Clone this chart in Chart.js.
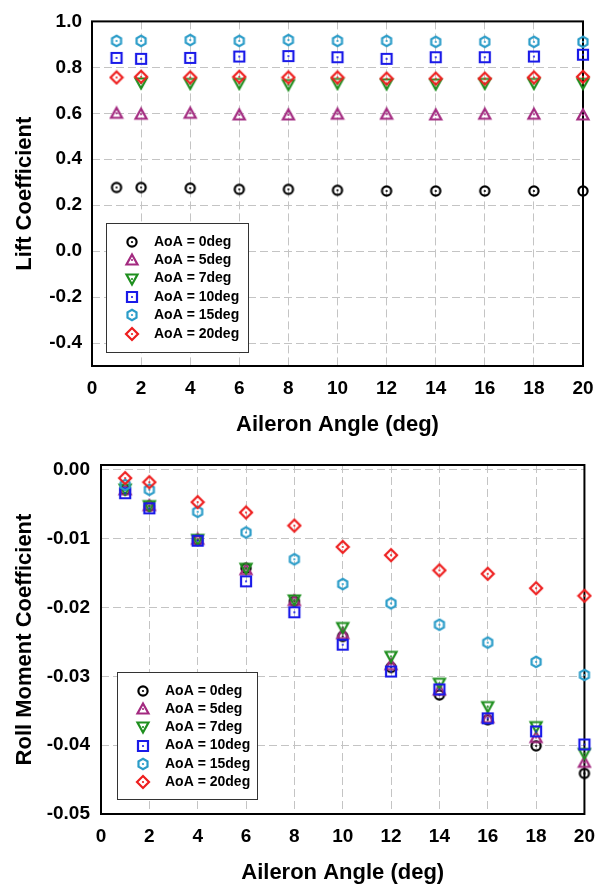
<!DOCTYPE html>
<html>
<head>
<meta charset="utf-8">
<script src="https://cdn.jsdelivr.net/npm/chart.js@4.4.1/dist/chart.umd.min.js"></script>
<style>
  html, body { margin: 0; padding: 0; background: #fff; }
  #wrap { position: relative; width: 606px; height: 888px; }
  #liftWrap { position: absolute; left: 0; top: 0; width: 606px; height: 440px; }
  #rollWrap { position: absolute; left: 0; top: 440px; width: 606px; height: 448px; }
</style>
</head>
<body>
<div id="wrap">
  <div id="liftWrap"><canvas id="liftChart"></canvas></div>
  <div id="rollWrap"><canvas id="rollChart"></canvas></div>
</div>
<script>
// data
const aileronAngles = [1, 2, 4, 6, 8, 10, 12, 14, 16, 18, 20];
const seriesLabels = ['AoA = 0deg', 'AoA = 5deg', 'AoA = 7deg', 'AoA = 10deg', 'AoA = 15deg', 'AoA = 20deg'];

const lift0  = [0.277, 0.277, 0.274, 0.269, 0.269, 0.265, 0.262, 0.262, 0.262, 0.262, 0.262];
const lift5  = [0.600, 0.596, 0.600, 0.593, 0.593, 0.596, 0.596, 0.593, 0.596, 0.596, 0.593];
const lift7  = [null, 0.732, 0.730, 0.730, 0.725, 0.730, 0.728, 0.727, 0.730, 0.730, 0.730];
const lift10 = [0.841, 0.837, 0.841, 0.847, 0.849, 0.844, 0.837, 0.844, 0.844, 0.847, 0.855];
const lift15 = [0.915, 0.915, 0.919, 0.915, 0.919, 0.915, 0.915, 0.911, 0.911, 0.911, 0.911];
const lift20 = [0.756, 0.759, 0.756, 0.759, 0.756, 0.756, 0.751, 0.751, 0.751, 0.756, 0.759];

const roll0  = [-0.0029, -0.0053, -0.0102, -0.0143, -0.0191, -0.0242, -0.0287, -0.0327, -0.0363, -0.0401, -0.0441];
const roll5  = [-0.0029, -0.0052, -0.0101, -0.0145, -0.0190, -0.0238, -0.0283, -0.0320, -0.0360, -0.0389, -0.0425];
const roll7  = [-0.0028, -0.0052, -0.0101, -0.0143, -0.0189, -0.0229, -0.0271, -0.0310, -0.0344, -0.0373, -0.0412];
const roll10 = [-0.0034, -0.0056, -0.0103, -0.0162, -0.0207, -0.0254, -0.0293, -0.0319, -0.0361, -0.0380, -0.0399];
const roll15 = [-0.0022, -0.0029, -0.0061, -0.0091, -0.0130, -0.0166, -0.0194, -0.0225, -0.0251, -0.0279, -0.0298];
const roll20 = [-0.0012, -0.0018, -0.0047, -0.0062, -0.0081, -0.0112, -0.0124, -0.0146, -0.0151, -0.0172, -0.0183];

const xTicks = [0, 2, 4, 6, 8, 10, 12, 14, 16, 18, 20];
const liftTicks = [-0.4, -0.2, 0.0, 0.2, 0.4, 0.6, 0.8, 1.0];
const rollTicks = [-0.05, -0.04, -0.03, -0.02, -0.01, 0.00];

const FONT = '"Liberation Sans", Arial, sans-serif';
const shapes = ['circle', 'triangle', 'triangleDown', 'square', 'hexagon', 'diamond'];
const colors = ['#000000', '#a32a80', '#1f8f1f', '#1a1ae8', '#2a9cc8', '#ee1e1e'];

// hollow marker with a small dot in the middle
function makeMarker(shape, color) {
  const c = document.createElement('canvas');
  c.width = 16; c.height = 16;
  const ctx = c.getContext('2d');
  const m = 8;
  ctx.strokeStyle = color;
  ctx.fillStyle = color;
  ctx.lineWidth = 2.2;
  ctx.beginPath();
  if (shape === 'circle') {
    ctx.arc(m, m, 4.6, 0, Math.PI * 2);
  } else if (shape === 'triangle') {
    ctx.moveTo(m, m - 5.5); ctx.lineTo(m + 5.5, m + 4.5); ctx.lineTo(m - 5.5, m + 4.5); ctx.closePath();
  } else if (shape === 'triangleDown') {
    ctx.moveTo(m, m + 5.5); ctx.lineTo(m + 5.5, m - 4.5); ctx.lineTo(m - 5.5, m - 4.5); ctx.closePath();
  } else if (shape === 'square') {
    ctx.rect(m - 5, m - 5, 10, 10);
  } else if (shape === 'hexagon') {
    for (let k = 0; k < 6; k++) {
      const a = -Math.PI / 2 + k * Math.PI / 3;
      const px = m + 5.2 * Math.cos(a), py = m + 5.2 * Math.sin(a);
      if (k === 0) ctx.moveTo(px, py); else ctx.lineTo(px, py);
    }
    ctx.closePath();
  } else if (shape === 'diamond') {
    ctx.moveTo(m, m - 6); ctx.lineTo(m + 6, m); ctx.lineTo(m, m + 6); ctx.lineTo(m - 6, m); ctx.closePath();
  }
  ctx.stroke();
  ctx.beginPath();
  ctx.arc(m, m, 1.1, 0, Math.PI * 2);
  ctx.fill();
  return c;
}

const markers = shapes.map((s, i) => makeMarker(s, colors[i]));

const plotFrame = {
  id: 'plotFrame',
  beforeDatasetsDraw(chart) {
    const { ctx, chartArea: a } = chart;
    ctx.save();
    ctx.strokeStyle = '#000';
    ctx.lineWidth = 2;
    ctx.strokeRect(a.left, a.top, a.right - a.left, a.bottom - a.top);
    ctx.restore();
  }
};

const boxLegend = {
  id: 'boxLegend',
  afterDraw(chart, args, opts) {
    const ctx = chart.ctx;
    ctx.save();
    ctx.fillStyle = '#fff';
    ctx.strokeStyle = '#333';
    ctx.lineWidth = 1;
    ctx.fillRect(opts.left, opts.top, opts.width, opts.height);
    ctx.strokeRect(opts.left + 0.5, opts.top + 0.5, opts.width, opts.height);
    ctx.font = 'bold 14px ' + FONT;
    ctx.textBaseline = 'middle';
    ctx.textAlign = 'left';
    chart.data.datasets.forEach((ds, i) => {
      const y = opts.top + opts.firstRow + i * opts.rowGap;
      const img = ds.pointStyle;
      ctx.drawImage(img, Math.round(opts.markerX - img.width / 2), Math.round(y - img.height / 2));
      ctx.fillStyle = '#000';
      ctx.fillText(ds.label, opts.textX, y);
    });
    ctx.restore();
  }
};

function makeChart(canvasId, series, yTicks, yMin, yMax, decimals, yTitle, layout, legend) {
  const datasets = series.map((vals, i) => ({
    label: seriesLabels[i],
    data: aileronAngles.map((x, j) => ({ x: x, y: vals[j] })),
    pointStyle: markers[i],
    pointRadius: 6,
    showLine: false,
    clip: false,
    order: series.length - i
  }));

  return new Chart(document.getElementById(canvasId), {
    type: 'scatter',
    data: { datasets: datasets },
    options: {
      responsive: true,
      maintainAspectRatio: false,
      animation: false,
      events: [],
      layout: { padding: layout.padding },
      plugins: {
        legend: { display: false },
        tooltip: { enabled: false },
        boxLegend: legend
      },
      scales: {
        x: {
          type: 'linear',
          min: 0,
          max: 20,
          afterBuildTicks: (scale) => { scale.ticks = xTicks.map(v => ({ value: v })); },
          afterFit: (scale) => { scale.height = layout.xHeight; },
          grid: { color: '#c4c4c4', lineWidth: 1, drawTicks: false },
          border: { display: false, dash: [8, 4] },
          ticks: {
            padding: 11,
            color: '#000',
            font: { family: FONT, size: 19, weight: 'bold' },
            callback: (v) => String(v)
          },
          title: {
            display: true,
            text: 'Aileron Angle (deg)',
            color: '#000',
            font: { family: FONT, size: 22, weight: 'bold' },
            padding: { top: 2, bottom: 2 }
          }
        },
        y: {
          type: 'linear',
          min: yMin,
          max: yMax,
          afterBuildTicks: (scale) => { scale.ticks = yTicks.map(v => ({ value: v })); },
          afterFit: (scale) => { scale.width = layout.yWidth; },
          grid: { color: '#c4c4c4', lineWidth: 1, drawTicks: false },
          border: { display: false, dash: [8, 4] },
          ticks: {
            padding: layout.yTickPad,
            color: '#000',
            font: { family: FONT, size: 19, weight: 'bold' },
            callback: (v) => Number(v).toFixed(decimals)
          },
          title: {
            display: true,
            text: yTitle,
            color: '#000',
            font: { family: FONT, size: 22, weight: 'bold' },
            padding: { top: 12, bottom: 12 }
          }
        }
      }
    },
    plugins: [plotFrame, boxLegend]
  });
}

makeChart('liftChart',
  [lift0, lift5, lift7, lift10, lift15, lift20],
  liftTicks, -0.5, 1.0, 1, 'Lift Coefficient',
  { padding: { top: 12, right: 23, left: 0, bottom: 0 }, xHeight: 74, yWidth: 92, yTickPad: 10 },
  { left: 106, top: 223, width: 142, height: 129, firstRow: 18.7, rowGap: 18.4, markerX: 132, textX: 154 });

makeChart('rollChart',
  [roll0, roll5, roll7, roll10, roll15, roll20],
  rollTicks, -0.05, 0.0007, 2, 'Roll Moment Coefficient',
  { padding: { top: 25, right: 18, left: 0, bottom: 0 }, xHeight: 74, yWidth: 101, yTickPad: 11 },
  { left: 117, top: 232, width: 140, height: 127, firstRow: 18.7, rowGap: 18.3, markerX: 143, textX: 165 });
</script>
</body>
</html>
